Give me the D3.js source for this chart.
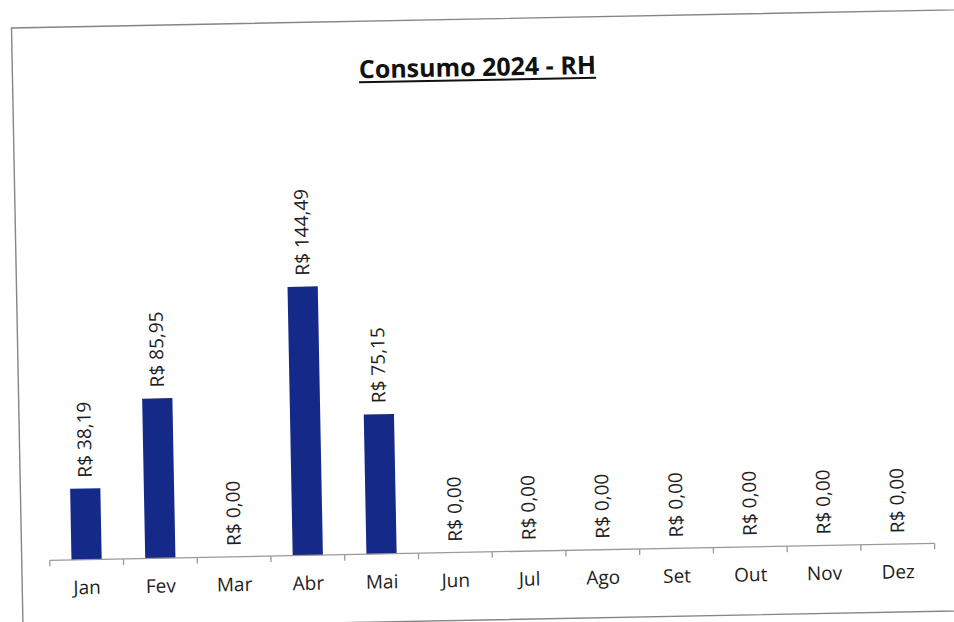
<!DOCTYPE html>
<html>
<head>
<meta charset="utf-8">
<script src="https://cdn.jsdelivr.net/npm/d3@7/dist/d3.min.js"></script>
<style>
  html, body { margin: 0; padding: 0; background: #ffffff; }
  svg { display: block; }
</style>
</head>
<body>
<svg id="chart" width="954" height="622"></svg>
<script>
// ---- data ----
const title = "Consumo 2024 - RH";
const months = ["Jan", "Fev", "Mar", "Abr", "Mai", "Jun", "Jul", "Ago", "Set", "Out", "Nov", "Dez"];
const values = [38.19, 85.95, 0.00, 144.49, 75.15, 0.00, 0.00, 0.00, 0.00, 0.00, 0.00, 0.00];
const yDomain = [0, 160];

// ---- setup ----
const svg = d3.select("#chart");
const tilt = -1.1; // scanned page tilt

const g = svg.append("g").attr("transform", `rotate(${tilt}, 480, 310)`);

const fontFamily = "'Open Sans', 'DejaVu Sans', sans-serif";
const textColor = "#1e1e1e";
const barColor = "#152a88";

// frame of chart area
g.append("rect")
  .attr("x", 17).attr("y", 19)
  .attr("width", 1100).attr("height", 601)
  .attr("fill", "none")
  .attr("stroke", "#858585")
  .attr("stroke-width", 1.4);

const margin = { left: 45, right: 930, axisY: 552, topY: 254.4 };

const x = d3.scaleBand()
  .domain(months)
  .range([margin.left, margin.right])
  .paddingInner(0.59)
  .paddingOuter(0.295);

const y = d3.scaleLinear()
  .domain(yDomain)
  .range([margin.axisY, margin.topY]);

const ptBR = d3.formatLocale({ decimal: ",", thousands: ".", grouping: [3], currency: ["R$ ", ""] });
const fmt = ptBR.format("$,.2f");

// title
const titleText = g.append("text")
  .attr("x", 482).attr("y", 76)
  .attr("text-anchor", "middle")
  .attr("font-family", fontFamily)
  .attr("font-weight", "bold")
  .attr("font-size", 25)
  .attr("fill", "#111")
  .text(title);
const tb = titleText.node().getBBox();
g.append("line")
  .attr("x1", tb.x).attr("x2", tb.x + tb.width)
  .attr("y1", 80).attr("y2", 80)
  .attr("stroke", "#111").attr("stroke-width", 2);

// bars
g.selectAll("rect.bar")
  .data(values)
  .join("rect")
  .attr("class", "bar")
  .attr("x", (d, i) => x(months[i]))
  .attr("width", x.bandwidth())
  .attr("y", d => y(d))
  .attr("height", d => y(0) - y(d))
  .attr("fill", barColor);

// axis
const axis = d3.axisBottom(x).tickSize(0).tickPadding(21);
const axG = g.append("g")
  .attr("transform", `translate(0, ${margin.axisY})`)
  .call(axis);
axG.select(".domain").remove();
axG.selectAll("text")
  .attr("font-family", fontFamily)
  .attr("font-size", 19)
  .attr("fill", textColor);

// axis line and boundary ticks (between categories)
g.append("line")
  .attr("x1", margin.left).attr("x2", margin.right)
  .attr("y1", margin.axisY).attr("y2", margin.axisY)
  .attr("stroke", "#9a9a9a").attr("stroke-width", 1.3);
const half = (x.step() - x.bandwidth()) / 2;
const bounds = months.map(m => x(m) - half).concat([x(months[months.length - 1]) + x.bandwidth() + half]);
g.selectAll("line.tick-b")
  .data(bounds)
  .join("line")
  .attr("class", "tick-b")
  .attr("x1", d => d).attr("x2", d => d)
  .attr("y1", margin.axisY).attr("y2", margin.axisY + 6)
  .attr("stroke", "#9a9a9a").attr("stroke-width", 1.3);

// value labels (rotated)
g.selectAll("text.val")
  .data(values)
  .join("text")
  .attr("class", "val")
  .attr("transform", (d, i) => `translate(${x(months[i]) + x.bandwidth() / 2}, ${y(d) - 11}) rotate(-90)`)
  .attr("dy", "0.36em")
  .attr("text-anchor", "start")
  .attr("font-family", fontFamily)
  .attr("font-size", 19)
  .attr("fill", textColor)
  .text(d => fmt(d));
</script>
</body>
</html>
